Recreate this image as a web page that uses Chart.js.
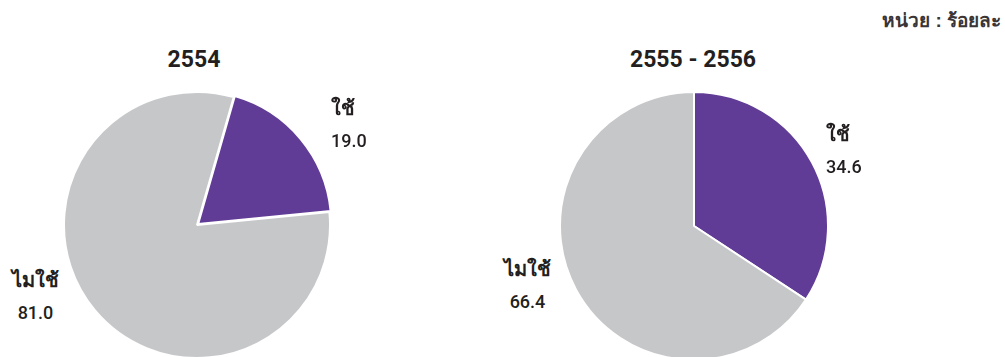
<!DOCTYPE html>
<html>
<head>
<meta charset="utf-8">
<script src="https://cdn.jsdelivr.net/npm/chart.js@4"></script>
<style>
  html, body { margin: 0; padding: 0; background: #fff; overflow: hidden; }
  body { width: 1005px; height: 357px; position: relative; font-family: "Liberation Sans", Arial, sans-serif; color: #231f20; }
  .box { position: absolute; }
  .title { position: absolute; font-family: Roboto, "Liberation Sans", sans-serif; font-weight: bold; font-size: 23px; transform: translateX(-50%); white-space: nowrap; }
  .lab { position: absolute; white-space: nowrap; }
  .lab .cat { font-weight: bold; font-size: 20px; }
  .lab .val { font-family: Roboto, "Liberation Sans", sans-serif; font-weight: 500; font-size: 18px; margin-top: 6px; text-align: center; }
  #unit { position: absolute; right: 4px; top: 5px; font-size: 19px; font-weight: bold; color: #3a3536; }
</style>
</head>
<body>
<div id="unit">หน่วย : ร้อยละ</div>

<div class="title" style="left:194px; top:46px;" id="t0"></div>
<div class="title" style="left:693px; top:46px;" id="t1"></div>

<div class="box" style="left:60px; top:88px; width:274px; height:274px;"><canvas id="pie0"></canvas></div>
<div class="box" style="left:559px; top:91px; width:270px; height:270px;"><canvas id="pie1"></canvas></div>

<div class="lab" id="l0a" style="left:331px; top:92px;"></div>
<div class="lab" id="l0b" style="left:12px; top:264px;"></div>
<div class="lab" id="l1a" style="left:826px; top:118px;"></div>
<div class="lab" id="l1b" style="left:504px; top:253px;"></div>

<script>
'use strict';

// Chart data
const categories = ['ใช้', 'ไมใช้'];
const years = ['2554', '2555 - 2556'];
const values2554 = [19.0, 81.0];
const values2556 = [34.6, 66.4];

const purple = '#613c96';
const grey = '#c6c7c9';

function makePie(id, values, rotation, offsets) {
  return new Chart(document.getElementById(id), {
    type: 'pie',
    data: {
      labels: categories,
      datasets: [
        {
          data: values,
          backgroundColor: [purple, grey],
          borderColor: '#ffffff',
          borderWidth: 2,
          offset: offsets,
        },
      ],
    },
    options: {
      responsive: true,
      maintainAspectRatio: false,
      animation: false,
      rotation: rotation,
      layout: { padding: 0 },
      plugins: {
        legend: { display: false },
        tooltip: { enabled: false },
      },
    },
  });
}

const pie0 = makePie('pie0', values2554, 16, [6, 0]);
const pie1 = makePie('pie1', values2556, 0, [0, 0]);

// titles and slice labels
document.getElementById('t0').textContent = years[0];
document.getElementById('t1').textContent = years[1];

function setLabel(id, cat, val) {
  const el = document.getElementById(id);
  el.innerHTML = '<div class="cat"></div><div class="val"></div>';
  el.querySelector('.cat').textContent = cat;
  el.querySelector('.val').textContent = val.toFixed(1);
}

setLabel('l0a', categories[0], values2554[0]);
setLabel('l0b', categories[1], values2554[1]);
setLabel('l1a', categories[0], values2556[0]);
setLabel('l1b', categories[1], values2556[1]);
</script>
</body>
</html>
